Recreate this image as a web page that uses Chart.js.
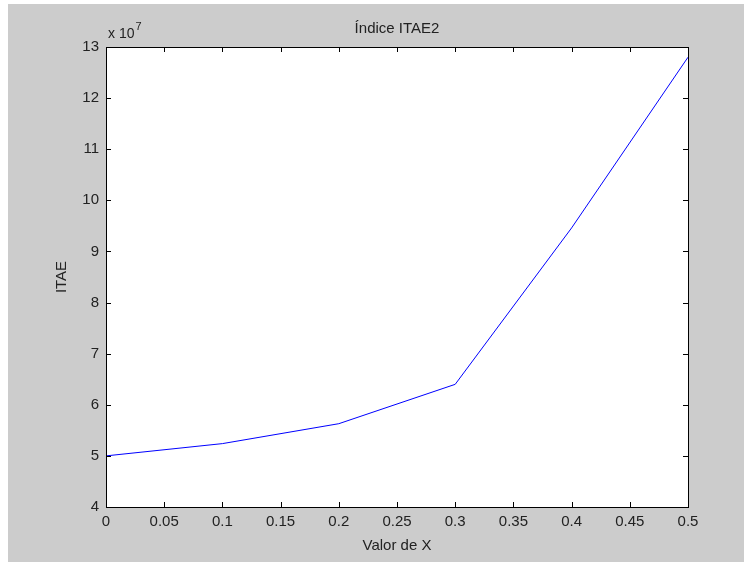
<!DOCTYPE html>
<html>
<head>
<meta charset="utf-8">
<script src="https://cdn.jsdelivr.net/npm/chart.js@4/dist/chart.umd.min.js"></script>
<style>
  body { margin: 0; background: #fff; }
  canvas { display: block; }
</style>
</head>
<body>
<canvas id="itaeCanvas" width="744" height="562"></canvas>
<script>
// valores de X y el indice ITAE2 calculado para cada uno
const xValues = [0, 0.1, 0.2, 0.3, 0.4, 0.5];
const itaeValues = [5.0e7, 5.24e7, 5.63e7, 6.40e7, 9.46e7, 12.80e7];

const yTicks = [4, 5, 6, 7, 8, 9, 10, 11, 12, 13];
const expo = 7;
const plotTitle = 'Índice ITAE2';

const font = "'Liberation Sans', Arial, sans-serif";
const figGray = '#cccccc';

// fondo gris de la figura, caja de ejes, marcas hacia dentro y titulo
const matlabAxes = {
  id: 'matlabAxes',
  beforeDraw(chart) {
    const ctx = chart.ctx;
    ctx.save();
    ctx.fillStyle = '#ffffff';
    ctx.fillRect(0, 0, chart.width, chart.height);
    ctx.fillStyle = figGray;
    ctx.fillRect(8, 4, chart.width - 8, chart.height - 4);
    const a = chart.chartArea;
    ctx.fillStyle = '#ffffff';
    ctx.fillRect(a.left, a.top, a.right - a.left, a.bottom - a.top);
    ctx.restore();
  },
  afterDatasetsDraw(chart) {
    const ctx = chart.ctx;
    const a = chart.chartArea;
    const xs = chart.scales.x, ys = chart.scales.y;
    const len = 5;
    ctx.save();
    ctx.strokeStyle = '#000';
    ctx.lineWidth = 1;
    ctx.beginPath();
    xs.ticks.forEach(t => {
      const px = Math.round(xs.getPixelForValue(t.value)) + 0.5;
      ctx.moveTo(px, a.bottom); ctx.lineTo(px, a.bottom - len);
      ctx.moveTo(px, a.top); ctx.lineTo(px, a.top + len);
    });
    ys.ticks.forEach(t => {
      const py = Math.round(ys.getPixelForValue(t.value)) + 0.5;
      ctx.moveTo(a.left, py); ctx.lineTo(a.left + len, py);
      ctx.moveTo(a.right, py); ctx.lineTo(a.right - len, py);
    });
    ctx.stroke();
    ctx.strokeRect(Math.round(a.left) + 0.5, Math.round(a.top) + 0.5,
      Math.round(a.right - a.left), Math.round(a.bottom - a.top));

    ctx.fillStyle = '#222';

    // titulo centrado sobre los ejes
    ctx.font = '15px ' + font;
    ctx.textAlign = 'center';
    ctx.textBaseline = 'middle';
    ctx.fillText(plotTitle, (a.left + a.right) / 2, a.top - 18);

    // factor de escala del eje Y
    ctx.textAlign = 'left';
    ctx.textBaseline = 'alphabetic';
    ctx.font = '14px ' + font;
    ctx.fillText('x 10', a.left + 2, a.top - 9);
    const w = ctx.measureText('x 10').width;
    ctx.font = '11px ' + font;
    ctx.fillText(String(expo), a.left + 3 + w, a.top - 17);
    ctx.restore();
  }
};

const ctx = document.getElementById('itaeCanvas').getContext('2d');

new Chart(ctx, {
  type: 'line',
  data: {
    datasets: [{
      data: xValues.map((x, i) => ({ x: x, y: itaeValues[i] })),
      borderColor: '#0000ff',
      borderWidth: 1,
      pointRadius: 0,
      tension: 0,
      fill: false
    }]
  },
  options: {
    responsive: false,
    animation: false,
    layout: { padding: { top: 47, right: 56, bottom: 0, left: 0 } },
    plugins: {
      legend: { display: false },
      tooltip: { enabled: false }
    },
    scales: {
      x: {
        type: 'linear',
        min: 0,
        max: 0.5,
        afterFit(scale) { scale.height = 55; },
        grid: { display: false, drawTicks: false },
        border: { display: false },
        ticks: {
          stepSize: 0.05,
          padding: 6,
          color: '#222',
          maxRotation: 0,
          autoSkip: false,
          font: { family: font, size: 15 },
          callback: v => String(Number(v.toFixed(2)))
        },
        title: {
          display: true,
          text: 'Valor de X',
          color: '#222',
          font: { family: font, size: 15 },
          padding: { top: 0, bottom: 7 }
        }
      },
      y: {
        type: 'linear',
        min: yTicks[0] * Math.pow(10, expo),
        max: yTicks[yTicks.length - 1] * Math.pow(10, expo),
        afterFit(scale) { scale.width = 106; },
        afterBuildTicks(scale) {
          scale.ticks = yTicks.map(v => ({ value: v * Math.pow(10, expo) }));
        },
        grid: { display: false, drawTicks: false },
        border: { display: false },
        ticks: {
          padding: 7,
          color: '#222',
          font: { family: font, size: 15 },
          callback: v => String(Math.round(v / Math.pow(10, expo)))
        },
        title: {
          display: true,
          text: 'ITAE',
          color: '#222',
          font: { family: font, size: 15 },
          padding: { top: 53, bottom: 0 }
        }
      }
    }
  },
  plugins: [matlabAxes]
});
</script>
</body>
</html>
